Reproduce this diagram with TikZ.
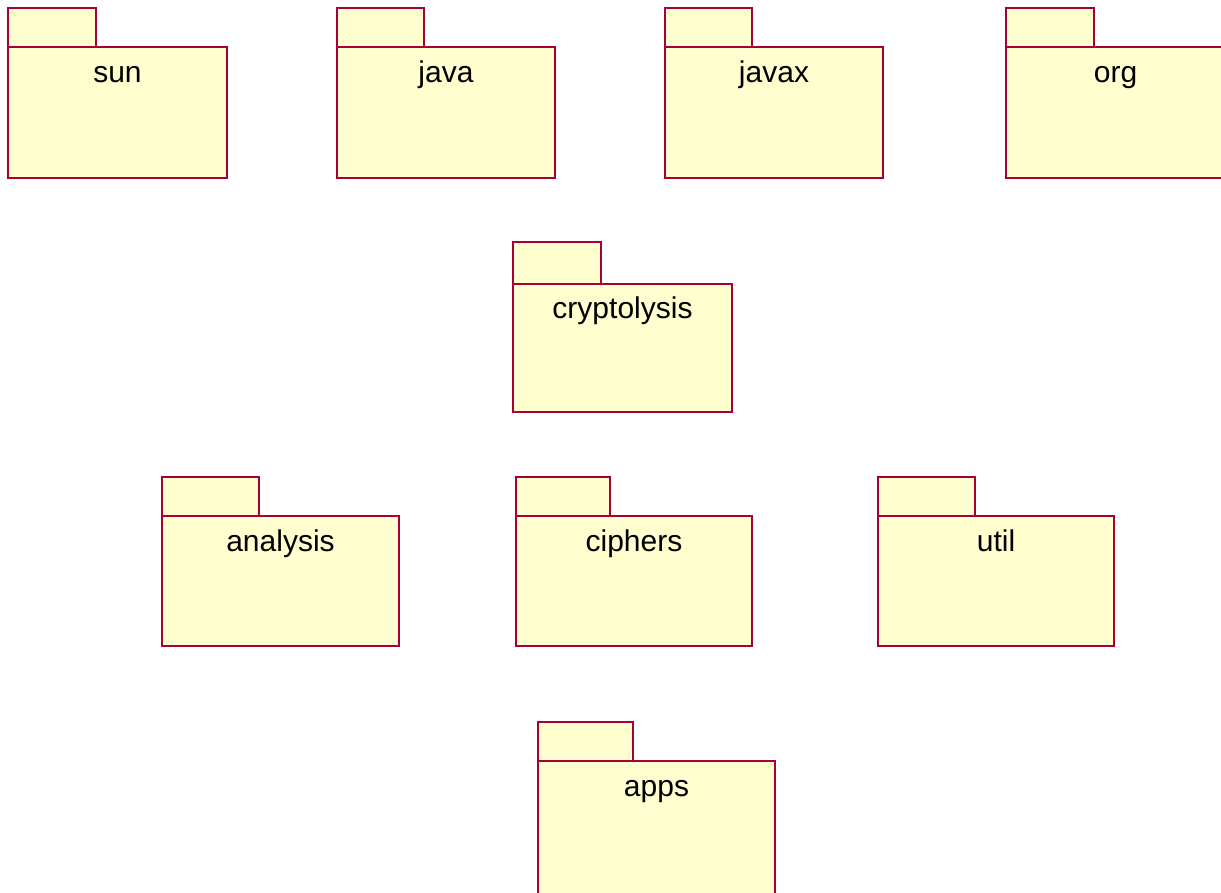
\documentclass[tikz,border=0pt]{standalone}
\usepackage{fontspec}
\setmainfont{Liberation Sans}
\usetikzlibrary{positioning}
\definecolor{pkgfill}{HTML}{FEFECE}
\definecolor{pkgline}{HTML}{A80036}
\tikzset{pkgbody/.style={draw=pkgline, fill=pkgfill, line width=1.8pt, rectangle, inner sep=0pt, outer sep=0pt, anchor=north west}}
\tikzset{pkgtab/.style={draw=pkgline, fill=pkgfill, line width=1.8pt, rectangle, inner sep=0pt, outer sep=0pt, anchor=south west}}
\tikzset{pkglabel/.style={font=\fontsize{30}{36}\selectfont, text height=22pt, text depth=6pt, inner sep=0pt}}

\begin{document}
\begin{tikzpicture}[x=1pt, y=-1pt]
\clip (0,0) rectangle (1221,892);

% top row
\node[pkgbody, minimum width=219pt, minimum height=131pt] (sun) at (8,47) {};
\node[pkgtab, minimum width=88pt, minimum height=39pt] (suntab) at (sun.north west) {};
\node[pkglabel] (sunlabel) [below=13pt of sun.north] {sun};

\node[pkgbody, minimum width=218pt, minimum height=131pt] (java) at (337,47) {};
\node[pkgtab, minimum width=87pt, minimum height=39pt] (javatab) at (java.north west) {};
\node[pkglabel] (javalabel) [below=13pt of java.north] {java};

\node[pkgbody, minimum width=218pt, minimum height=131pt] (javax) at (665,47) {};
\node[pkgtab, minimum width=87pt, minimum height=39pt] (javaxtab) at (javax.north west) {};
\node[pkglabel] (javaxlabel) [below=13pt of javax.north] {javax};

\node[pkgbody, minimum width=219pt, minimum height=131pt] (org) at (1006,47) {};
\node[pkgtab, minimum width=88pt, minimum height=39pt] (orgtab) at (org.north west) {};
\node[pkglabel] (orglabel) [below=13pt of org.north] {org};

% core
\node[pkgbody, minimum width=219pt, minimum height=128pt] (cryptolysis) at (513,284) {};
\node[pkgtab, minimum width=88pt, minimum height=42pt] (cryptolysistab) at (cryptolysis.north west) {};
\node[pkglabel] (cryptolysislabel) [below=12pt of cryptolysis.north] {cryptolysis};

% sub packages
\node[pkgbody, minimum width=237pt, minimum height=130pt] (analysis) at (162,516) {};
\node[pkgtab, minimum width=97pt, minimum height=39pt] (analysistab) at (analysis.north west) {};
\node[pkglabel] (analysislabel) [below=13pt of analysis.north] {analysis};

\node[pkgbody, minimum width=236pt, minimum height=130pt] (ciphers) at (516,516) {};
\node[pkgtab, minimum width=94pt, minimum height=39pt] (cipherstab) at (ciphers.north west) {};
\node[pkglabel] (cipherslabel) [below=13pt of ciphers.north] {ciphers};

\node[pkgbody, minimum width=236pt, minimum height=130pt] (util) at (878,516) {};
\node[pkgtab, minimum width=97pt, minimum height=39pt] (utiltab) at (util.north west) {};
\node[pkglabel] (utillabel) [below=13pt of util.north] {util};

\node[pkgbody, minimum width=237pt, minimum height=136pt] (apps) at (538,761) {};
\node[pkgtab, minimum width=95pt, minimum height=39pt] (appstab) at (apps.north west) {};
\node[pkglabel] (appslabel) [below=13pt of apps.north] {apps};
\end{tikzpicture}
\end{document}
